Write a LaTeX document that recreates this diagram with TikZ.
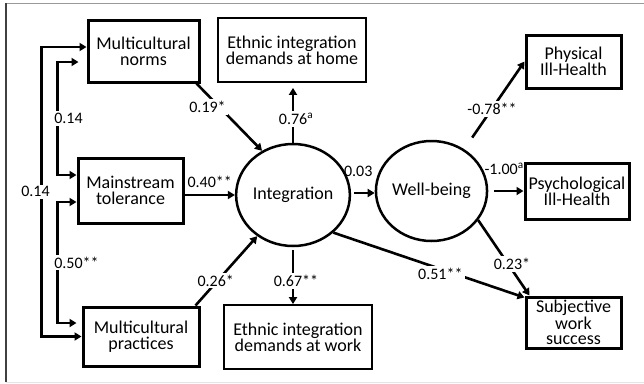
\documentclass[tikz,border=0pt]{standalone}
\usepackage{fontspec}
\setmainfont{Carlito}
\usetikzlibrary{arrows.meta,shapes.geometric}

\begin{document}
\begin{tikzpicture}[
  x=1pt, y=-1pt,
  every node/.style = {align=center},
  obsbox/.style = {
    draw, 
    line width=3pt, 
    inner sep=0pt,
    font=\fontsize{18}{16}\selectfont
  },
  demandbox/.style = {obsbox, line width=1.8pt},
  latent/.style = {
    ellipse, 
    draw, 
    line width=2.5pt, 
    inner sep=0pt,
    font=\fontsize{18}{16}\selectfont
  },
  effect/.style = {line width=2.6pt, -{Triangle[length=7pt,width=8pt]}},
  corr/.style = {line width=2.6pt, {Triangle[length=7pt,width=8pt]}-{Triangle[length=7pt,width=8pt]}},
  coef/.style = {fill=white, inner sep=2pt, font=\fontsize{16}{18}\selectfont}
]
\useasboundingbox (0,0) rectangle (644,383);

% frame
\draw[gray!20, line width=1pt] (6,382) -- (644,382);
\draw[gray!80, line width=1pt] (6,3.5) -- (644,3.5);
\draw[black!75, line width=1.5pt] (6,382) -- (6,3);

% predictors
\node[obsbox, minimum width=111pt, minimum height=62pt] (norms) at (143.5,51) {Multicultural\\norms};
\node[obsbox, minimum width=105pt, minimum height=65pt] (tolerance) at (130.5,190.5) {Mainstream\\tolerance};
\node[obsbox, minimum width=116pt, minimum height=59pt] (practices) at (141,336.5) {Multicultural\\practices};

% integration and its indicators
\node[latent, minimum width=106pt, minimum height=102pt] (integration) at (293,195) {Integration};
\node[demandbox, minimum width=148pt, minimum height=64pt] (home) at (292,50) {Ethnic integration\\demands at home};
\node[demandbox, minimum width=148pt, minimum height=64pt] (work) at (298,337) {Ethnic integration\\demands at work};

% outcomes
\node[latent, minimum width=109pt, minimum height=100pt] (wellbeing) at (431.5,191) {Well-being};
\node[obsbox, minimum width=95pt, minimum height=53pt] (physical) at (573.5,61.5) {Physical\\Ill-Health};
\node[obsbox, minimum width=104pt, minimum height=56pt] (psych) at (577,191) {Psychological\\Ill-Health};
\node[obsbox, minimum width=95pt, minimum height=51pt, font=\fontsize{18}{15}\selectfont] (success) at (573.5,322.5) {Subjective\\work\\success};

% correlations
\draw[corr] ([yshift=4pt]norms.west) -- ++(-45,0) |- (practices.west)
  node[coef, pos=0.25, xshift=-6pt] {0.14};
\draw[corr] ([xshift=-8pt,yshift=-11pt]norms.west) -- ++(-21,0) |- ([yshift=15.5pt]tolerance.west)
  node[coef, pos=0.25, xshift=11pt] {0.14};
\draw[corr] ([yshift=-11.5pt]tolerance.west) -- ++(-19,0) |- ([xshift=-5pt,yshift=13.5pt]practices.west)
  node[coef, pos=0.25, xshift=19pt] {0.50**};

% paths
\draw[effect] ([xshift=-4pt]norms.south east) -- (integration.125)
  node[coef, pos=0.26, xshift=-6pt, yshift=-6pt] {0.19*};
\draw[effect] (tolerance.east |- integration.west) -- (integration.west)
  node[coef, fill=none, midway, above=4pt] {0.40**};
\draw[effect] ([xshift=-5pt]practices.north east) -- (integration.229)
  node[coef, pos=0.36, xshift=-2pt] {0.26*};
\draw[effect, shorten >=5pt] (integration.north) -- (integration.north |- home.south)
  node[coef, pos=0.4, xshift=3pt] {0.76\textsuperscript{a}};
\draw[effect, shorten <=3pt] (integration.south) -- (integration.south |- work.north)
  node[coef, pos=0.59, xshift=3pt] {0.67**};
\draw[effect, shorten <=3pt] ([yshift=2pt]integration.east) -- ([yshift=2pt]integration.east -| wellbeing.west)
  node[coef, fill=none, pos=0.3, above=13pt] {0.03};
\draw[effect] (integration.-43) -- ([yshift=-2pt]success.north west)
  node[coef, pos=0.56, yshift=-5pt] {0.51**};
\draw[effect, shorten <=14pt] (wellbeing.52) -- (physical.west)
  node[coef, pos=0.46] {-0.78**};
\draw[effect, shorten <=6pt] (wellbeing.east) -- (psych.west)
  node[coef, fill=none, pos=0.45, above=13pt] {-1.00\textsuperscript{a}};
\draw[effect] (wellbeing.-32) -- ([xshift=5pt]success.north west)
  node[coef, pos=0.58, xshift=4pt] {0.23*};

\end{tikzpicture}
\end{document}
